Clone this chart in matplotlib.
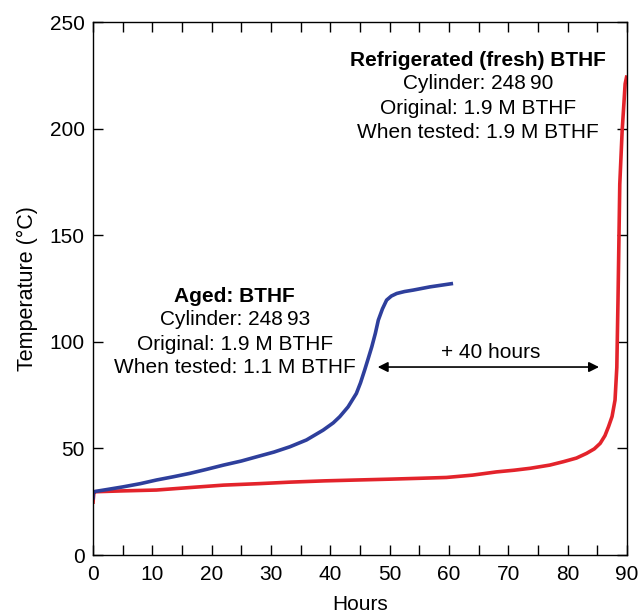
import matplotlib
matplotlib.use("Agg")
import matplotlib.pyplot as plt
from matplotlib.ticker import MultipleLocator

plt.rcParams['font.family'] = ['Liberation Sans', 'DejaVu Sans']

aged_hours = [0, 0.05, 0.3, 2.5, 5.1, 8, 10.7, 13.5, 16.3, 19, 22, 25, 27.6, 30.5, 33.2, 36, 38.8, 40.5, 41.6, 43, 44.4, 45.1, 45.8, 46.4, 47.0, 47.6, 48.1, 48.8, 49.5, 50.3, 51.2, 52.5, 54, 56.8, 59, 60.7]
aged_temp = [26, 29, 29.8, 30.8, 32, 33.5, 35.2, 36.7, 38.3, 40.1, 42.2, 44.1, 46.1, 48.3, 50.8, 54, 58.6, 62, 64.9, 69.5, 75.8, 80.8, 86.8, 92.2, 97.7, 104, 110.2, 115.5, 119.6, 121.5, 122.7, 123.6, 124.3, 125.8, 126.7, 127.4]

fresh_hours = [0, 0.05, 0.15, 0.3, 5, 10.7, 16, 22, 28, 33.2, 39, 44.4, 50, 55, 59.6, 64, 68, 71, 73.7, 77, 79.3, 81.5, 83.2, 84.5, 85.5, 86.3, 86.9, 87.5, 88.0, 88.3, 88.5, 88.8, 89.2, 89.5, 89.7, 90]
fresh_temp = [24, 26, 29, 29.7, 30.1, 30.5, 31.6, 32.8, 33.5, 34.2, 34.8, 35.2, 35.6, 36.0, 36.4, 37.5, 39, 39.8, 40.7, 42.2, 43.8, 45.5, 47.7, 49.8, 52.4, 56, 60.2, 65, 72.7, 88, 119.6, 174, 199, 212, 221, 225]

fig = plt.figure(figsize=(6.41, 6.14), dpi=100)
ax = fig.add_axes([0.145, 0.096, 0.833, 0.868])

ax.plot(fresh_hours, fresh_temp, color='#e3232b', lw=2.6, solid_capstyle='butt')
ax.plot(aged_hours, aged_temp, color='#2e3f9c', lw=2.6, solid_capstyle='butt')

ax.set_xlim(0, 90)
ax.set_ylim(0, 250)
ax.xaxis.set_major_locator(MultipleLocator(10))
ax.xaxis.set_minor_locator(MultipleLocator(5))
ax.yaxis.set_major_locator(MultipleLocator(50))
ax.tick_params(which='both', direction='in', top=True, right=True, labelsize=15, width=1.0, length=7)
ax.tick_params(axis='x', which='both', pad=7)
ax.tick_params(axis='y', which='both', pad=6)
for s in ax.spines.values():
    s.set_linewidth(1.0)

ax.set_xlabel('Hours', fontsize=15, labelpad=8)
ax.set_ylabel('Temperature (°C)', fontsize=15.5, labelpad=8)

fs = 15
ax.text(64.9, 232, 'Refrigerated (fresh) BTHF', ha='center', va='center', fontsize=fs, fontweight='bold')
ax.text(64.9, 221, 'Cylinder: 248\u200990', ha='center', va='center', fontsize=fs)
ax.text(64.9, 209.7, 'Original: 1.9 M BTHF', ha='center', va='center', fontsize=fs)
ax.text(64.9, 198.3, 'When tested: 1.9 M BTHF', ha='center', va='center', fontsize=fs)

ax.text(23.9, 121.5, 'Aged: BTHF', ha='center', va='center', fontsize=fs, fontweight='bold')
ax.text(23.9, 110.4, 'Cylinder: 248\u200993', ha='center', va='center', fontsize=fs)
ax.text(23.9, 99, 'Original: 1.9 M BTHF', ha='center', va='center', fontsize=fs)
ax.text(23.9, 87.8, 'When tested: 1.1 M BTHF', ha='center', va='center', fontsize=fs)

ax.annotate('', xy=(48.0, 88.2), xytext=(85.3, 88.2),
            arrowprops=dict(arrowstyle='<|-|>', color='black', lw=1.2, mutation_scale=15, shrinkA=0, shrinkB=0))
ax.text(67, 94.8, '+ 40 hours', ha='center', va='center', fontsize=fs)

fig.savefig('out.png', dpi=100)
